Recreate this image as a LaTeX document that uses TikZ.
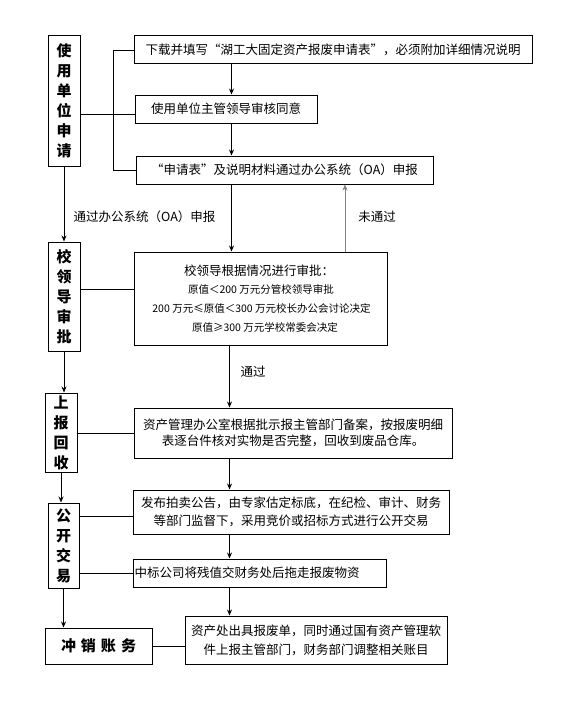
\documentclass[tikz,border=0pt]{standalone}
\usepackage{fontspec}
\setmainfont{Noto Sans CJK SC}
\usetikzlibrary{calc,arrows.meta}
\begin{document}
\begin{tikzpicture}[x=1pt,y=-1pt,
  sz/.style 2 args={minimum width=#1pt,minimum height=#2pt},
  box/.style={draw,line width=1pt,inner sep=0pt,font=\fontsize{12.5}{17}\selectfont,align=center},
  side/.style={draw,line width=1pt,inner sep=0pt,font=\fontsize{15}{20}\selectfont\bfseries,align=center},
  arr/.style={line width=0.9pt,-{Stealth[length=6pt,width=5pt]}},
  conn/.style={line width=0.9pt},
  lbl/.style={font=\fontsize{12.5}{15}\selectfont,inner sep=0pt},
  small/.style={font=\fontsize{10.5}{12}\selectfont,inner sep=0pt}]
\useasboundingbox (0,0) rectangle (566,709);
% left column
\node[side,sz={32}{130}] (L1) at (64,101) {使\\用\\单\\位\\申\\请};
\node[side,sz={32}{109}] (L2) at (64,296.5) {校\\领\\导\\审\\批};
\node[side,sz={32}{79}] (L3) at (61,432.5) {上\\报\\回\\收};
\node[side,sz={31}{85}] (L4) at (63.5,545.5) {公\\开\\交\\易};
\node[side,sz={107}{36}] (L5) at (98.5,646) {冲\hspace{5pt}销\hspace{5pt}账\hspace{5pt}务};
% right column
\node[box,sz={398}{28}] (R1) at (333,50) {下载并填写“湖工大固定资产报废申请表”，必须附加详细情况说明};
\node[box,sz={182}{28}] (R2) at (226,109) {使用单位主管领导审核同意};
\node[box,sz={297}{28}] (R3) at (284.5,170) {“申请表”及说明材料通过办公系统（OA）申报};
\node[box,sz={253}{93}] (R4) at (260.5,298.5) {};
\node[lbl] (R4a) at (259,271) {校领导根据情况进行审批：};
\node[small] (R4b) at (261,289.5) {原值＜200 万元分管校领导审批};
\node[small] (R4c) at (261.5,308.5) {200 万元≤原值＜300 万元校长办公会讨论决定};
\node[small] (R4d) at (265,327.5) {原值≥300 万元学校常委会决定};
\node[box,sz={318}{50},font=\fontsize{12.5}{16}\selectfont] (R5) at (293,433) {资产管理办公室根据批示报主管部门备案，按报废明细\\表逐台件核对实物是否完整，回收到废品仓库。};
\node[box,sz={316}{44},font=\fontsize{12.5}{18.5}\selectfont] (R6) at (291,512) {发布拍卖公告，由专家估定标底，在纪检、审计、财务\\等部门监督下，采用竞价或招标方式进行公开交易};
\node[box,sz={253}{28},text width=250pt,align=left] (R7) at (259.5,573) {中标公司将残值交财务处后拖走报废物资};
\node[box,sz={262}{48},font=\fontsize{12.5}{19}\selectfont] (R8) at (316,640) {资产处出具报废单，同时通过国有资产管理软\\件上报主管部门，财务部门调整相关账目};
% labels
\node[lbl] (t1) at (144.5,217) {通过办公系统（OA）申报};
\node[lbl] (t2) at (377,217) {未通过};
\node[lbl] (t3) at (253,372) {通过};
% helper coordinates
\coordinate (ax) at (231.5,0);
\coordinate (bx) at (229.5,0);
\coordinate (cx) at (345,0);
\coordinate (k1) at ($(R2.west)+(0,5)$);
\coordinate (k2) at ($(R4.west)+(0,-9.5)$);
\coordinate (k4) at ($(R6.west)+(0,4)$);
% arrows right column
\draw[arr] (R1.south -| ax) -- (R2.north -| ax);
\draw[arr] (R2.south -| ax) -- (R3.north -| ax);
\draw[arr] (R3.south -| ax) -- (R4.north -| ax);
\draw[arr] (R4.south -| bx) -- (R5.north -| bx);
\draw[arr] (R5.south -| bx) -- (R6.north -| bx);
\draw[arr] (R6.south -| bx) -- (R7.north -| bx);
\draw[arr] (R7.south -| bx) -- (R8.north -| bx);
\draw[arr,gray] (R4.north -| cx) -- (R3.south -| cx);
% arrows left column
\draw[arr] (L1.south) -- (L1.south |- L2.north);
\draw[arr] (L2.south) -- (L2.south |- L3.north);
\draw[arr] (L3.south) -- (L3.south |- L4.north);
\draw[arr] (L4.south) -- (L4.south |- L5.north);
% connectors
\draw[conn] (R1.west) -- ++(-20,0) |- (R3.west);
\draw[conn] (k1 -| L1.east) -- (k1);
\draw[conn] (k2 -| L2.east) -- (k2);
\draw[conn] (L3.east |- R5.west) -- (R5.west);
\draw[conn] (k4 -| L4.east) -- (k4);
\draw[conn] (L4.east |- R7.west) -- (R7.west);
\draw[conn] (L5.east) -- (L5.east -| R8.west);
\end{tikzpicture}
\end{document}
